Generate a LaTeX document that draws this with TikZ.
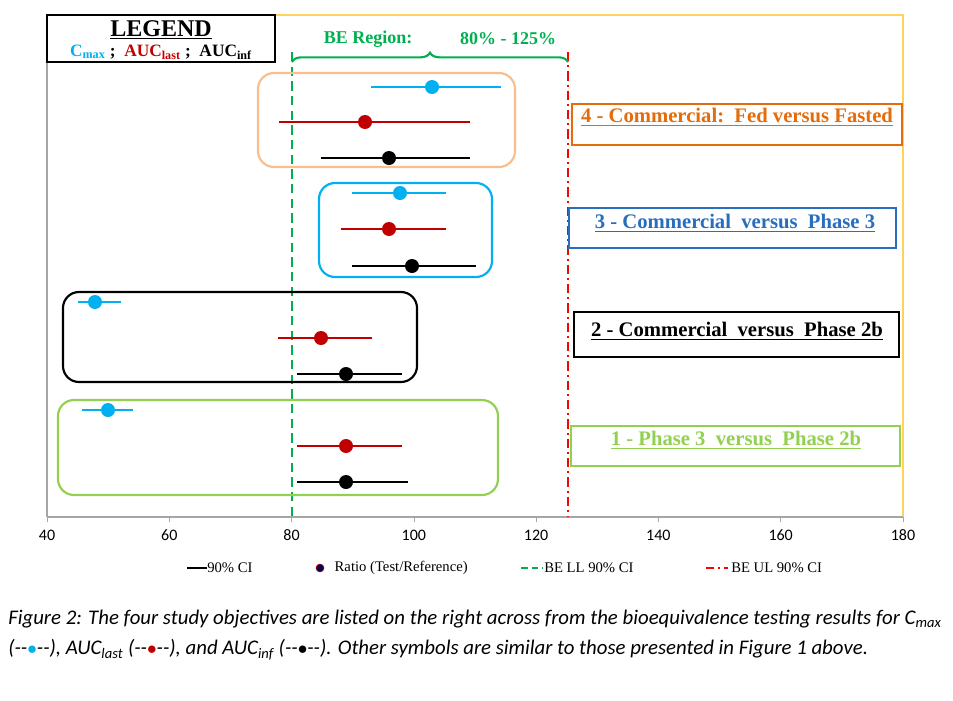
\documentclass[tikz,border=0pt]{standalone}
\usepackage{fontspec}
\setmainfont{Liberation Serif}
\newfontfamily\calib{Carlito}
\usetikzlibrary{decorations.pathreplacing}
\definecolor{cyanc}{RGB}{0,176,240}
\definecolor{redc}{RGB}{192,0,0}
\definecolor{orc}{RGB}{250,190,140}
\definecolor{orT}{RGB}{228,108,10}
\definecolor{bluc}{RGB}{0,176,240}
\definecolor{bluT}{RGB}{40,110,190}
\definecolor{grc}{RGB}{146,208,80}
\definecolor{beg}{RGB}{0,176,80}
\definecolor{yel}{RGB}{255,210,90}
\tikzset{x=0.75pt,y=-0.75pt,
 ci/.style={line width=1.5pt},
 dot/.style={circle,fill,inner sep=0pt,minimum size=10.5pt},
 grp/.style={rounded corners=12pt,line width=1.6pt},
 labt/.style={font=\bfseries\fontsize{15.5}{18}\selectfont},
 tick/.style={font=\calib\fontsize{12}{14}\selectfont},
 leg/.style={anchor=west,font=\fontsize{11}{13}\selectfont}}
\begin{document}
\begin{tikzpicture}
\useasboundingbox[fill=white] (0,0) rectangle (953,700);
% plot frame
\draw[yel,line width=0.8pt] (47,15) -- (903,15) -- (903,517);
\draw[gray!70,line width=0.8pt] (47,15) -- (47,517);
\draw[gray!70,line width=0.8pt] (47,517) -- (903,517);
\foreach \v in {40,60,...,180}{
 \pgfmathsetmacro\px{47+(\v-40)*6.114}
 \draw[gray!70] (\px,517) -- (\px,522);
 \node[tick] at (\px,535) {\v};}
% BE lines
\draw[beg,line width=2pt,dash pattern=on 7pt off 4pt] (292,52) -- (292,517);
\draw[red,line width=2pt,dash pattern=on 7pt off 3pt on 1.5pt off 3pt] (568,52) -- (568,517);
\draw[beg,line width=1.6pt,decorate,decoration={brace,amplitude=7pt}] (292,62) -- (568,62);
\node[beg,font=\bfseries\fontsize{13.5}{16}\selectfont] at (368,39) {BE Region:};
\node[beg,font=\bfseries\fontsize{13.5}{16}\selectfont] at (508,39) {80\% - 125\%};
% groups
\draw[grp,orc] (258,73) rectangle (515,167);
\draw[grp,bluc] (319,183) rectangle (492,277);
\draw[grp,black] (63,292) rectangle (417,382);
\draw[grp,grc] (58,400) rectangle (498,495);
\foreach \y/\a/\b/\d/\c in {
 87/371/501/432/cyanc, 122/279/470/365/redc, 158/321/470/389/black,
 193/352/446/400/cyanc, 229/341/446/389/redc, 266/352/476/412/black,
 302/78/121/95/cyanc, 338/278/372/321/redc, 374/297/402/346/black,
 410/82/133/108/cyanc, 446/297/402/346/redc, 482/297/408/346/black}{
 \draw[ci,\c] (\a,\y) -- (\b,\y);
 \node[dot,fill=\c] at (\d,\y) {};}
% labels
\draw[orT,line width=0.9pt] (572,104) rectangle (902,145);
\node[orT,labt] at (737,117) {\underline{4 - Commercial:\ \ Fed versus Fasted}};
\draw[bluT,line width=0.9pt] (569,208) rectangle (896,248);
\node[bluT,labt] at (735,223) {\underline{3 - Commercial\ \ versus\ \ Phase 3}};
\draw[black,line width=1.4pt] (574,312) rectangle (899,357);
\node[labt] at (737,331) {\underline{2 - Commercial\ \ versus\ \ Phase 2b}};
\draw[grc,line width=0.9pt] (571,426) rectangle (900,466);
\node[grc,labt] at (736,440) {\underline{1 - Phase 3\ \ versus\ \ Phase 2b}};
% legend box
\draw[line width=1.8pt,fill=white] (47,15) rectangle (275,62);
\node[font=\bfseries\fontsize{18}{20}\selectfont] at (161,30) {\underline{LEGEND}};
\node[font=\bfseries\fontsize{13}{15}\selectfont] at (161,52) {\textcolor{cyanc}{C\textsubscript{max}}\ ;\ \ \textcolor{redc}{AUC\textsubscript{last}}\ ;\ \ AUC\textsubscript{inf}};
% bottom legend
\draw[line width=1.5pt] (187,568) -- (207,568);
\node[leg,inner sep=0pt] at (207,568) {90\% CI};
\node[circle,fill=black!70!blue,draw=redc,inner sep=0pt,minimum size=6pt] at (320,568) {};
\node[leg] at (330,568) {Ratio (Test/Reference)};
\draw[beg,line width=1.5pt,dash pattern=on 5pt off 3pt] (521,568) -- (543,568);
\node[leg,inner sep=0pt] at (544,568) {BE LL 90\% CI};
\draw[red,line width=1.5pt,dash pattern=on 6pt off 3pt on 1.5pt off 3pt] (706,568) -- (728,568);
\node[leg,inner sep=0pt] at (731,568) {BE UL 90\% CI};
% caption
\node[anchor=north west,text width=700pt,align=justify,font=\calib\itshape\fontsize{15.6}{22.5}\selectfont,inner sep=0pt] at (8,610)
{Figure 2: The four study objectives are listed on the right across from the bioequivalence testing results for C\textsubscript{max} (--\textcolor{cyanc}{$\bullet$}--), AUC\textsubscript{last} (--\textcolor{redc}{$\bullet$}--), and AUC\textsubscript{inf} (--$\bullet$--). Other symbols are similar to those presented in Figure 1 above.};
\end{tikzpicture}
\end{document}
